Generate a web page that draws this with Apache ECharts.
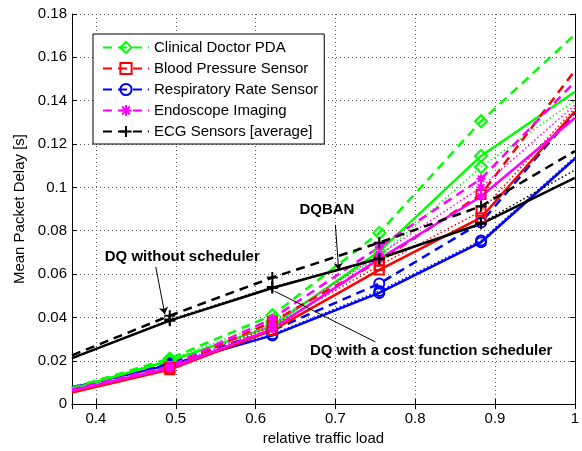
<!DOCTYPE html>
<html><head><meta charset="utf-8">
<script src="https://cdn.jsdelivr.net/npm/echarts@6/dist/echarts.min.js"></script>
<style>html,body{margin:0;padding:0;background:#fff}#c{width:582px;height:451px}</style>
</head><body><div id="c"></div>
<script>
// relative traffic load (x)
const loads = [0.37, 0.4925, 0.621, 0.755, 0.8825, 1.0];
// Clinical Doctor PDA
const pdaNoSched = [0.0075, 0.0210, 0.0410, 0.0790, 0.1305, 0.1705];
const pdaDqban   = [0.0070, 0.0200, 0.0360, 0.0705, 0.1145, 0.1441];
const pdaCost    = [0.0072, 0.0205, 0.0380, 0.0680, 0.1094, 0.1400];
// Blood Pressure Sensor
const bpNoSched = [0.0058, 0.0170, 0.0380, 0.0660, 0.0967, 0.1539];
const bpDqban   = [0.0053, 0.0159, 0.0340, 0.0619, 0.0860, 0.1350];
const bpCost    = [0.0055, 0.0165, 0.0360, 0.0640, 0.0890, 0.1365];
// Respiratory Rate Sensor
const rrNoSched = [0.0078, 0.0190, 0.0340, 0.0556, 0.0838, 0.1345];
const rrDqban   = [0.0076, 0.0181, 0.0317, 0.0513, 0.0747, 0.1132];
const rrCost    = [0.0077, 0.0184, 0.0322, 0.0522, 0.0755, 0.1140];
// Endoscope Imaging
const endoNoSched = [0.0068, 0.0175, 0.0395, 0.0725, 0.1040, 0.1486];
const endoDqban   = [0.0063, 0.0166, 0.0347, 0.0670, 0.0958, 0.1320];
const endoCost    = [0.0065, 0.0170, 0.0370, 0.0690, 0.1000, 0.1380];
// ECG Sensors [average]
const ecgNoSched = [0.0225, 0.0408, 0.0584, 0.0745, 0.0913, 0.1167];
const ecgDqban   = [0.0212, 0.0385, 0.0536, 0.0672, 0.0832, 0.1044];
const ecgCost    = [0.0210, 0.0390, 0.0540, 0.0668, 0.0835, 0.1080];

const legendNames = ['Clinical Doctor PDA','Blood Pressure Sensor','Respiratory Rate Sensor','Endoscope Imaging','ECG Sensors [average]'];

const FONT = 'Liberation Sans, Arial, Helvetica, sans-serif';
const PLUS = 'path://M5,0 L5,10 M0,5 L10,5';
const STAR = 'path://M5,0 L5,10 M0,5 L10,5 M1.5,1.5 L8.5,8.5 M8.5,1.5 L1.5,8.5';

const sensors = [
  {name:legendNames[2], color:'#0000ff', symbol:'circle',  size:10, vals:[rrNoSched, rrDqban, rrCost]},
  {name:legendNames[0], color:'#00ff00', symbol:'diamond', size:12, vals:[pdaNoSched, pdaDqban, pdaCost]},
  {name:legendNames[1], color:'#ff0000', symbol:'rect',    size:9,  vals:[bpNoSched, bpDqban, bpCost]},
  {name:legendNames[3], color:'#ff00ff', symbol:STAR,      size:9,  vals:[endoNoSched, endoDqban, endoCost]},
  {name:legendNames[4], color:'#000000', symbol:PLUS,      size:11, vals:[ecgNoSched, ecgDqban, ecgCost]}
];

const styles = [
  {suffix:'', type:[9,6], width:2.5},
  {suffix:' (DQBAN)', type:'solid', width:2.5},
  {suffix:' (cost)', type:[1.5,2.5], width:1.5}
];

const series = [];
sensors.forEach(s => {
  styles.forEach((st, k) => {
    const vals = s.vals[k];
    series.push({
      type:'line',
      name: s.name + st.suffix,
      data: vals.map((v,i) => ({value:[loads[i], v], symbol:(i===0||i===loads.length-1)?'none':s.symbol})),
      symbol: s.symbol,
      symbolSize: s.size,
      showSymbol: true,
      clip: true,
      lineStyle: {color:s.color, width:st.width, type:st.type},
      itemStyle: {color:'rgba(0,0,0,0)', borderColor:s.color, borderWidth:2},
      emphasis:{disabled:true},
      silent:true,
      z: 2
    });
  });
});

// annotations
series.push({
  type:'line', name:'__annot', data:[], silent:true,
  markLine:{
    silent:true, animation:false,
    symbol:['none','arrow'], symbolSize:7,
    lineStyle:{color:'#000', width:1, type:'solid'},
    label:{show:false},
    data:[
      [{coord:[0.700,0.0827]},{coord:[0.7041,0.0619]}],
      [{coord:[0.475,0.0633]},{coord:[0.4863,0.0415]}],
      [{coord:[0.6238,0.0521], symbol:'none'},{coord:[0.750,0.0287], symbol:'none'}]
    ]
  },
  markPoint:{
    silent:true, animation:false,
    symbol:'circle', symbolSize:0,
    label:{show:true, position:'inside', formatter:'{b}', color:'#000', fontWeight:'bold', fontSize:15, fontFamily:FONT},
    data:[
      {name:'DQBAN', coord:[0.6894,0.0897]},
      {name:'DQ without scheduler', coord:[0.5081,0.0678]},
      {name:'DQ with a cost function scheduler', coord:[0.820,0.0247]}
    ]
  }
});

const xFmt = v => (Math.abs(v*10 - Math.round(v*10)) < 1e-6) ? String(+v.toFixed(1)) : '';
const yFmt = v => String(+v.toFixed(2));
const grid = {left:72, right:6, top:14, bottom:39};
const axisLineS = {show:true, lineStyle:{color:'#000', width:1}};
const tickS = {show:true, inside:true, length:5, lineStyle:{color:'#000'}};
const splitS = {show:true, lineStyle:{color:'#555', width:1, type:[1,3]}};

const chart = echarts.init(document.getElementById('c'), null, {renderer:'canvas'});
chart.setOption({
  animation:false,
  backgroundColor:'#fff',
  textStyle:{fontFamily:FONT},
  grid: grid,
  legend:{
    data: legendNames,
    orient:'vertical',
    left:93, top:34,
    backgroundColor:'#fff',
    borderColor:'#000', borderWidth:1,
    padding:[6,6,5,9],
    itemWidth:46, itemHeight:14, itemGap:6,
    textStyle:{fontSize:15, color:'#000', fontFamily:FONT},
    selectedMode:false
  },
  xAxis:[
    {type:'value', min:0.37, max:1, position:'bottom',
     axisLine:axisLineS, axisTick:tickS, splitLine:splitS,
     axisLabel:{formatter:xFmt, fontSize:15, color:'#000', margin:7, fontFamily:FONT},
     name:'relative traffic load', nameLocation:'middle', nameGap:24,
     nameTextStyle:{fontSize:15, color:'#000', fontFamily:FONT}},
    {type:'value', min:0.37, max:1, position:'top',
     axisLine:axisLineS, axisTick:tickS, splitLine:{show:false}, axisLabel:{show:false}}
  ],
  yAxis:[
    {type:'value', min:0, max:0.18, interval:0.02, position:'left',
     axisLine:axisLineS, axisTick:tickS, splitLine:splitS,
     axisLabel:{formatter:yFmt, fontSize:15, color:'#000', margin:5, fontFamily:FONT},
     name:'Mean Packet Delay [s]', nameLocation:'middle', nameGap:41,
     nameTextStyle:{fontSize:15, color:'#000', fontFamily:FONT}},
    {type:'value', min:0, max:0.18, interval:0.02, position:'right',
     axisLine:axisLineS, axisTick:tickS, splitLine:{show:false}, axisLabel:{show:false}}
  ],
  series: series
});
</script>
</body></html>
